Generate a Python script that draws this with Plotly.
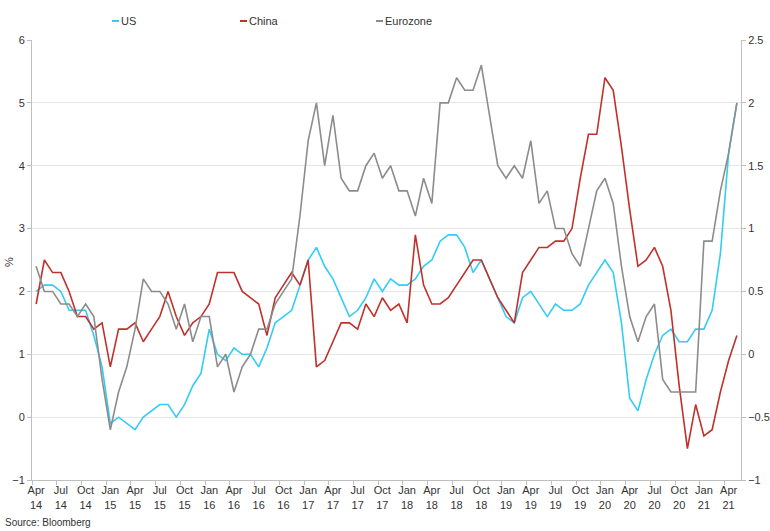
import plotly.graph_objects as go

# Monthly data, Apr 2014 .. May 2021 (86 months), y/y %
us = [2.0, 2.1, 2.1, 2.0, 1.7, 1.7, 1.7, 1.3, 0.8,
      -0.1, 0.0, -0.1, -0.2, 0.0, 0.1, 0.2, 0.2, 0.0, 0.2, 0.5, 0.7,
      1.4, 1.0, 0.9, 1.1, 1.0, 1.0, 0.8, 1.1, 1.5, 1.6, 1.7, 2.1,
      2.5, 2.7, 2.4, 2.2, 1.9, 1.6, 1.7, 1.9, 2.2, 2.0, 2.2, 2.1,
      2.1, 2.2, 2.4, 2.5, 2.8, 2.9, 2.9, 2.7, 2.3, 2.5, 2.2, 1.9,
      1.6, 1.5, 1.9, 2.0, 1.8, 1.6, 1.8, 1.7, 1.7, 1.8, 2.1, 2.3,
      2.5, 2.3, 1.5, 0.3, 0.1, 0.6, 1.0, 1.3, 1.4, 1.2, 1.2, 1.4,
      1.4, 1.7, 2.6, 4.2, 5.0]

china = [1.8, 2.5, 2.3, 2.3, 2.0, 1.6, 1.6, 1.4, 1.5,
         0.8, 1.4, 1.4, 1.5, 1.2, 1.4, 1.6, 2.0, 1.6, 1.3, 1.5, 1.6,
         1.8, 2.3, 2.3, 2.3, 2.0, 1.9, 1.8, 1.3, 1.9, 2.1, 2.3, 2.1,
         2.5, 0.8, 0.9, 1.2, 1.5, 1.5, 1.4, 1.8, 1.6, 1.9, 1.7, 1.8,
         1.5, 2.9, 2.1, 1.8, 1.8, 1.9, 2.1, 2.3, 2.5, 2.5, 2.2, 1.9,
         1.7, 1.5, 2.3, 2.5, 2.7, 2.7, 2.8, 2.8, 3.0, 3.8, 4.5, 4.5,
         5.4, 5.2, 4.3, 3.3, 2.4, 2.5, 2.7, 2.4, 1.7, 0.5, -0.5, 0.2,
         -0.3, -0.2, 0.4, 0.9, 1.3]

# Eurozone plotted on the right-hand axis
eurozone = [0.7, 0.5, 0.5, 0.4, 0.4, 0.3, 0.4, 0.3, -0.2,
            -0.6, -0.3, -0.1, 0.2, 0.6, 0.5, 0.5, 0.4, 0.2, 0.4, 0.1, 0.3,
            0.3, -0.1, 0.0, -0.3, -0.1, 0.0, 0.2, 0.2, 0.4, 0.5, 0.6, 1.1,
            1.7, 2.0, 1.5, 1.9, 1.4, 1.3, 1.3, 1.5, 1.6, 1.4, 1.5, 1.3,
            1.3, 1.1, 1.4, 1.2, 2.0, 2.0, 2.2, 2.1, 2.1, 2.3, 1.9, 1.5,
            1.4, 1.5, 1.4, 1.7, 1.2, 1.3, 1.0, 1.0, 0.8, 0.7, 1.0, 1.3,
            1.4, 1.2, 0.7, 0.3, 0.1, 0.3, 0.4, -0.2, -0.3, -0.3, -0.3, -0.3,
            0.9, 0.9, 1.3, 1.6, 2.0]

month_names = ["Jan", "Feb", "Mar", "Apr", "May", "Jun",
               "Jul", "Aug", "Sep", "Oct", "Nov", "Dec"]
months = []
for k in range(len(us)):
    m = (3 + k) % 12
    y = 14 + (3 + k) // 12
    months.append(f"{month_names[m]}<br>{y:02d}")

x = list(range(len(us)))
tick_idx = list(range(0, len(us), 3))
tick_text = [months[i] for i in tick_idx]

C_US = "#33CCF5"
C_CN = "#C0312B"
C_EZ = "#8C8C8C"
FONT = "Liberation Sans, Arial, sans-serif"
TXT = "#333333"

fig = go.Figure()
fig.add_trace(go.Scatter(x=x, y=us, name="US", mode="lines",
                         line=dict(color=C_US, width=1.6)))
fig.add_trace(go.Scatter(x=x, y=china, name="China", mode="lines",
                         line=dict(color=C_CN, width=1.6)))
fig.add_trace(go.Scatter(x=x, y=eurozone, name="Eurozone", mode="lines",
                         line=dict(color=C_EZ, width=1.6), yaxis="y2"))

L, R, T, B = 32, 29, 40, 51
fig.update_layout(
    width=770, height=531,
    margin=dict(l=L, r=R, t=T, b=B, autoexpand=False),
    paper_bgcolor="white", plot_bgcolor="white",
    showlegend=False,
    font=dict(family=FONT, size=11, color=TXT),
    xaxis=dict(
        automargin=False,
        range=[-0.5, len(us) - 0.5],
        tickmode="array", tickvals=tick_idx, ticktext=tick_text,
        ticks="", showgrid=False, zeroline=False,
        showline=True, linecolor="#BFBFBF", linewidth=1,
        tickfont=dict(size=11, color=TXT),
        minor=dict(tickmode="array",
                   tickvals=[i - 0.5 for i in range(0, len(us) + 1, 3)],
                   ticks="outside", ticklen=4, tickcolor="#BFBFBF",
                   showgrid=False),
    ),
    yaxis=dict(
        automargin=False,
        range=[-1, 6], dtick=1, tick0=0,
        showgrid=True, gridcolor="#E6E6E6", gridwidth=1,
        zeroline=False, showline=True, linecolor="#BFBFBF", linewidth=1,
        ticks="outside", ticklen=4, tickcolor="#BFBFBF",
        tickfont=dict(size=11, color=TXT),
    ),
    yaxis2=dict(
        automargin=False,
        range=[-1, 2.5], dtick=0.5, tick0=0,
        overlaying="y", side="right",
        showgrid=False, zeroline=False,
        showline=True, linecolor="#BFBFBF", linewidth=1,
        ticks="outside", ticklen=4, tickcolor="#BFBFBF",
        tickfont=dict(size=11, color=TXT),
    ),
)

pw = 770 - L - R
ph = 531 - T - B

def px_x(p):
    return (p - L) / pw

def px_y(p):
    return (531 - B - p) / ph

# Custom legend (short line swatches + labels) above the plot
legend_items = [("US", C_US, 112), ("China", C_CN, 240), ("Eurozone", C_EZ, 376)]
for name, col, px in legend_items:
    yy = px_y(21)
    fig.add_shape(type="line", xref="paper", yref="paper",
                  x0=px_x(px), x1=px_x(px + 7), y0=yy, y1=yy,
                  line=dict(color=col, width=2))
    fig.add_annotation(xref="paper", yref="paper", x=px_x(px + 7), y=yy,
                       xanchor="left", yanchor="middle", showarrow=False,
                       text=name, font=dict(size=11, color=TXT))

# Axis unit label
fig.add_annotation(xref="paper", yref="paper", x=px_x(9), y=px_y(262),
                   xanchor="center", yanchor="middle", showarrow=False,
                   textangle=-90, text="%", font=dict(size=11, color=TXT))

fig.add_annotation(xref="paper", yref="paper", x=px_x(3),
                   y=px_y(522), xanchor="left", yanchor="middle",
                   showarrow=False, text="Source: Bloomberg",
                   font=dict(size=10, color=TXT))

fig.write_html("out.html",
               config={"displayModeBar": False},
               post_script="document.body.style.margin='0';"
                           "document.body.style.overflow='hidden';")
